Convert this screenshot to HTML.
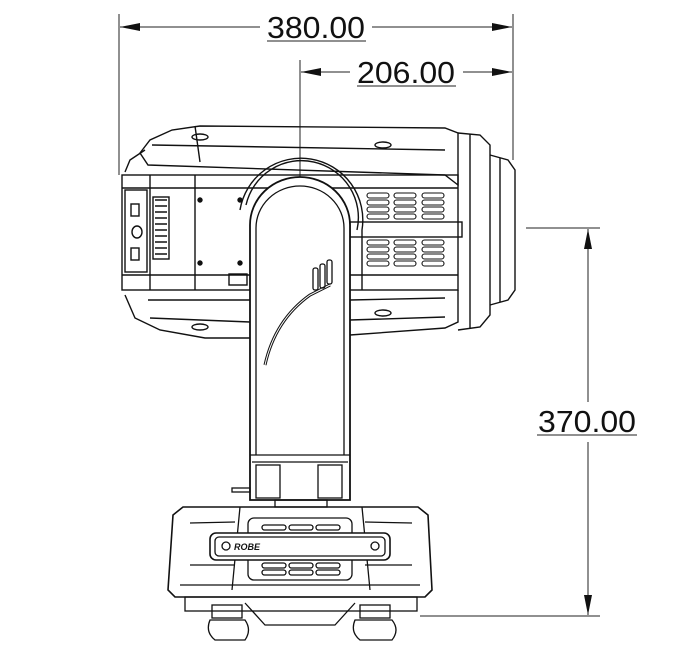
<!DOCTYPE html>
<html><head><meta charset="utf-8"><style>
html,body{margin:0;padding:0;background:#fff;}
svg{display:block}
text{font-family:"Liberation Sans",sans-serif;fill:#111}
</style></head><body>
<svg width="681" height="650" viewBox="0 0 681 650" xmlns="http://www.w3.org/2000/svg">
<defs>
<marker id="a" viewBox="0 0 20 8" refX="20" refY="4" markerWidth="20" markerHeight="8" orient="auto-start-reverse" markerUnits="userSpaceOnUse"><path d="M0,0 L20,4 L0,8 Z" fill="#111"/></marker>
</defs>
<g stroke="#222" fill="none" stroke-width="1">
<line x1="119" y1="14" x2="119" y2="175"/>
<line x1="513" y1="14" x2="513" y2="160"/>
<line x1="120" y1="27" x2="260" y2="27" marker-start="url(#a)"/>
<line x1="372" y1="27" x2="512" y2="27" marker-end="url(#a)"/>
<line x1="300" y1="60" x2="300" y2="232"/>
<line x1="301" y1="72" x2="350" y2="72" marker-start="url(#a)"/>
<line x1="463" y1="72" x2="512" y2="72" marker-end="url(#a)"/>
<line x1="526" y1="228" x2="600" y2="228"/>
<line x1="420" y1="616" x2="600" y2="616"/>
<line x1="588" y1="229" x2="588" y2="402" marker-start="url(#a)"/>
<line x1="588" y1="442" x2="588" y2="615" marker-end="url(#a)"/>
<line x1="267" y1="41" x2="366" y2="41"/>
<line x1="357" y1="86" x2="456" y2="86"/>
<line x1="537" y1="435" x2="637" y2="435"/>
</g>
<text x="267" y="38" font-size="31" textLength="98" lengthAdjust="spacingAndGlyphs">380.00</text>
<text x="357" y="83" font-size="31" textLength="98" lengthAdjust="spacingAndGlyphs">206.00</text>
<text x="538" y="432" font-size="31" textLength="98" lengthAdjust="spacingAndGlyphs">370.00</text>

<g stroke="#111" fill="none" stroke-width="1.4">
<path d="M140,153 L150,140 L172,130 L200,126 L445,128 L458,133 L458,185 L445,175 L148,165 Z"/>
<path d="M152,145 L445,150"/>
<path d="M195,126 L200,162"/>
<ellipse cx="200" cy="137" rx="8" ry="3"/>
<ellipse cx="383" cy="145" rx="8" ry="3"/>
<path d="M125,172 L130,160 L145,150"/>
<rect x="122" y="175" width="336" height="115"/>
<line x1="122" y1="188" x2="458" y2="188"/>
<line x1="122" y1="275" x2="458" y2="275"/>
<line x1="150" y1="175" x2="150" y2="290"/>
<line x1="195" y1="175" x2="195" y2="290"/>
<rect x="125" y="190" width="22" height="82"/>
<rect x="153" y="197" width="16" height="62"/>
<path d="M155,200 h12 M155,206 h12 M155,212 h12 M155,218 h12 M155,224 h12 M155,230 h12 M155,236 h12 M155,242 h12 M155,248 h12 M155,254 h12"/>
<rect x="131" y="204" width="8" height="12"/>
<rect x="131" y="248" width="8" height="12"/>
<ellipse cx="137" cy="232" rx="5" ry="6"/>
<rect x="229" y="274" width="18" height="11"/>
<circle cx="200" cy="200" r="2" fill="#111"/><circle cx="240" cy="200" r="2" fill="#111"/>
<circle cx="200" cy="263" r="2" fill="#111"/><circle cx="240" cy="263" r="2" fill="#111"/>
<path d="M125,295 L135,318 L160,330 L205,338 L250,338 M350,335 L445,328 L458,322 L458,290"/>
<path d="M148,300 L250,300 M350,300 L445,298"/>
<path d="M150,318 L250,322 M350,320 L445,317"/>
<ellipse cx="383" cy="313" rx="8" ry="3"/>
<ellipse cx="200" cy="327" rx="8" ry="3"/>
<path d="M458,133 L480,135 L490,145 L490,315 L480,327 L458,330"/>
<path d="M470,134 L470,329"/>
<path d="M490,155 L508,160 L515,170 L515,290 L508,300 L490,305"/>
<path d="M500,158 L500,302"/>
<rect x="350" y="222" width="112" height="15"/>
<g stroke-width="1.1">
<rect x="367" y="193" width="22" height="5" rx="2.5"/><rect x="394" y="193" width="22" height="5" rx="2.5"/><rect x="422" y="193" width="22" height="5" rx="2.5"/>
<rect x="367" y="200" width="22" height="5" rx="2.5"/><rect x="394" y="200" width="22" height="5" rx="2.5"/><rect x="422" y="200" width="22" height="5" rx="2.5"/>
<rect x="367" y="207" width="22" height="5" rx="2.5"/><rect x="394" y="207" width="22" height="5" rx="2.5"/><rect x="422" y="207" width="22" height="5" rx="2.5"/>
<rect x="367" y="214" width="22" height="5" rx="2.5"/><rect x="394" y="214" width="22" height="5" rx="2.5"/><rect x="422" y="214" width="22" height="5" rx="2.5"/>
<rect x="367" y="240" width="22" height="5" rx="2.5"/><rect x="394" y="240" width="22" height="5" rx="2.5"/><rect x="422" y="240" width="22" height="5" rx="2.5"/>
<rect x="367" y="247" width="22" height="5" rx="2.5"/><rect x="394" y="247" width="22" height="5" rx="2.5"/><rect x="422" y="247" width="22" height="5" rx="2.5"/>
<rect x="367" y="254" width="22" height="5" rx="2.5"/><rect x="394" y="254" width="22" height="5" rx="2.5"/><rect x="422" y="254" width="22" height="5" rx="2.5"/>
<rect x="367" y="261" width="22" height="5" rx="2.5"/><rect x="394" y="261" width="22" height="5" rx="2.5"/><rect x="422" y="261" width="22" height="5" rx="2.5"/>
</g>
<path d="M240,210 A60,60 0 0 1 362,230 L362,290" />
<path d="M246,205 A55,55 0 0 1 357,230"/>
</g>
<g stroke="#111" stroke-width="1.8" fill="#fff">
<path d="M250,500 L250,225 A50,48 0 0 1 350,225 L350,500 Z"/>
</g>
<g stroke="#111" fill="none" stroke-width="1.3">
<path d="M256,455 L256,228 A44,42 0 0 1 344,228 L344,455"/>
<path d="M250,455 L350,455"/>
<path d="M252,462 L348,462"/>
<rect x="256" y="465" width="24" height="33"/>
<rect x="318" y="465" width="24" height="33"/>
<path d="M265,365 Q275,320 310,295 L330,285" stroke-width="3"/>
<path d="M265,365 Q275,320 310,295 L330,285" stroke="#fff" stroke-width="1"/>
<rect x="313" y="268" width="5" height="22" rx="2"/>
<rect x="320" y="264" width="5" height="24" rx="2"/>
<rect x="327" y="260" width="5" height="24" rx="2"/>
<rect x="232" y="488" width="18" height="4"/>
<rect x="275" y="500" width="52" height="7"/>
<path d="M183,507 L418,507 L428,515 L432,590 L425,597 L175,597 L168,590 L173,515 Z" stroke-width="1.6"/>
<path d="M240,507 L232,590 M362,507 L370,590"/>
<path d="M180,585 L420,585"/>
<rect x="248" y="518" width="104" height="62" rx="6"/>
<path d="M190,523 L235,522 M365,522 L412,523 M190,565 L235,565 M365,565 L412,565"/>
<rect x="210" y="533" width="180" height="27" rx="6" fill="#fff" stroke-width="1.6"/>
<rect x="215" y="537" width="170" height="19" rx="4"/>
<circle cx="226" cy="546" r="4"/><circle cx="375" cy="546" r="4"/>
<rect x="262" y="563" width="24" height="5" rx="2.5"/><rect x="289" y="563" width="24" height="5" rx="2.5"/><rect x="316" y="563" width="24" height="5" rx="2.5"/>
<rect x="262" y="570" width="24" height="5" rx="2.5"/><rect x="289" y="570" width="24" height="5" rx="2.5"/><rect x="316" y="570" width="24" height="5" rx="2.5"/>
<rect x="262" y="525" width="24" height="5" rx="2.5"/><rect x="289" y="525" width="24" height="5" rx="2.5"/><rect x="316" y="525" width="24" height="5" rx="2.5"/>
<rect x="185" y="597" width="232" height="14"/>
<path d="M245,603 L265,625 L335,625 L355,603"/>
<rect x="212" y="605" width="30" height="13"/>
<rect x="360" y="605" width="30" height="13"/>
<path d="M210,620 Q205,632 215,640 L245,640 Q252,630 245,620 Z"/>
<path d="M355,620 Q350,632 360,640 L392,640 Q400,630 392,620 Z"/>
</g>
<text x="234" y="550" font-size="9" font-style="italic" font-weight="bold">ROBE</text>
</svg>
</body></html>
